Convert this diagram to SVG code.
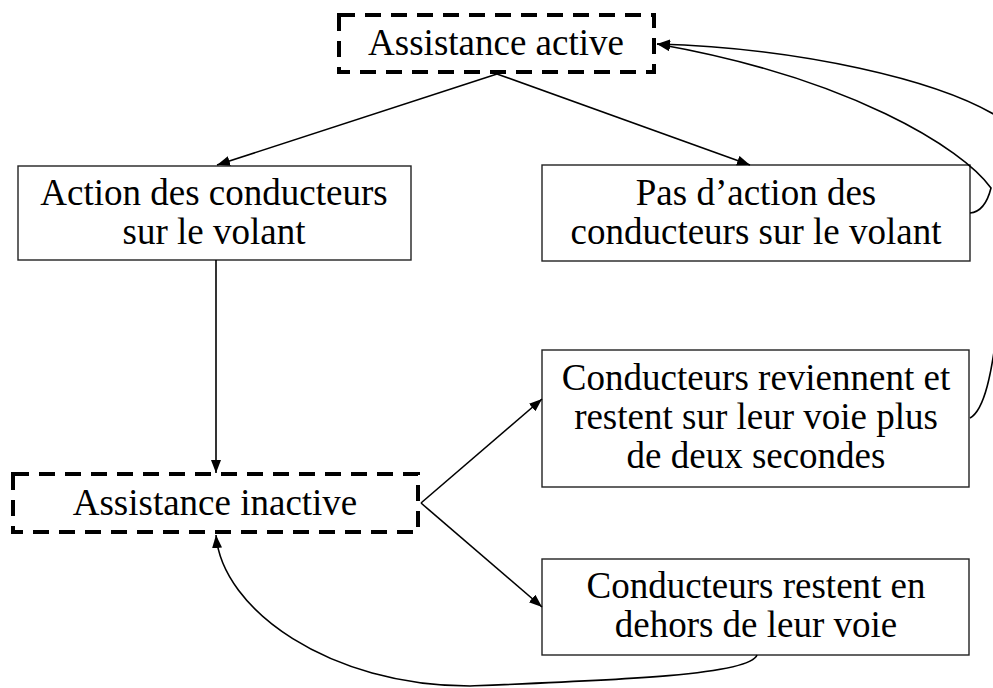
<svg xmlns="http://www.w3.org/2000/svg" width="993" height="688" viewBox="0 0 993 688">
<style>
  .box { fill: #fff; stroke: #222; stroke-width: 1.4; }
  .dbox { fill: #fff; stroke: #000; stroke-width: 4; stroke-dasharray: 16 10; }
  .lbl { font-family: "Liberation Serif", "Times New Roman", serif; font-size: 37px; fill: #000; text-anchor: middle; }
  .conn { fill: none; stroke: #000; stroke-width: 1.6; marker-end: url(#arr); }
</style>
<defs>
  <marker id="arr" markerUnits="userSpaceOnUse" markerWidth="14" markerHeight="12" refX="13" refY="5" orient="auto">
    <path d="M0,0 L13,5 L0,10 Z" fill="#000"/>
  </marker>
</defs>
<rect width="993" height="688" fill="#fff"/>

<g id="n-active">
  <rect class="dbox" x="339" y="15" width="315" height="57"/>
  <text class="lbl" x="496" y="55">Assistance active</text>
</g>
<g id="n-action">
  <rect class="box" x="18" y="166" width="393" height="94"/>
  <text class="lbl" x="214" y="205">Action des conducteurs</text>
  <text class="lbl" x="214" y="244">sur le volant</text>
</g>
<g id="n-noaction">
  <rect class="box" x="542" y="165" width="428" height="96"/>
  <text class="lbl" x="756" y="205">Pas d’action des</text>
  <text class="lbl" x="756" y="244">conducteurs sur le volant</text>
</g>
<g id="n-reviennent">
  <rect class="box" x="542" y="350" width="427" height="137"/>
  <text class="lbl" x="756" y="390">Conducteurs reviennent et</text>
  <text class="lbl" x="756" y="429">restent sur leur voie plus</text>
  <text class="lbl" x="756" y="468">de deux secondes</text>
</g>
<g id="n-inactive">
  <rect class="dbox" x="13" y="474" width="405" height="58"/>
  <text class="lbl" x="215" y="515">Assistance inactive</text>
</g>
<g id="n-dehors">
  <rect class="box" x="542" y="559" width="427" height="96"/>
  <text class="lbl" x="756" y="598">Conducteurs restent en</text>
  <text class="lbl" x="756" y="637">dehors de leur voie</text>
</g>

<g id="connectors">
  <path class="conn" d="M497,74 L217,165"/>
  <path class="conn" d="M497,74 L750,165"/>
  <path class="conn" d="M216,260 L216,473"/>
  <path class="conn" d="M421,503 L542,399"/>
  <path class="conn" d="M421,503 L542,607"/>
  <path class="conn" d="M757,655 C750,675 620,680 470,686 C330,686 222,610 216,535"/>
  <path class="conn" d="M970,213 C982,212 988,200 991,188 C962,148 850,78 657,44"/>
  <path class="conn" d="M970,418 C985,410 992,370 997,330 C1010,230 1015,150 1000,118 C940,80 800,48 657,44"/>
</g>
</svg>
